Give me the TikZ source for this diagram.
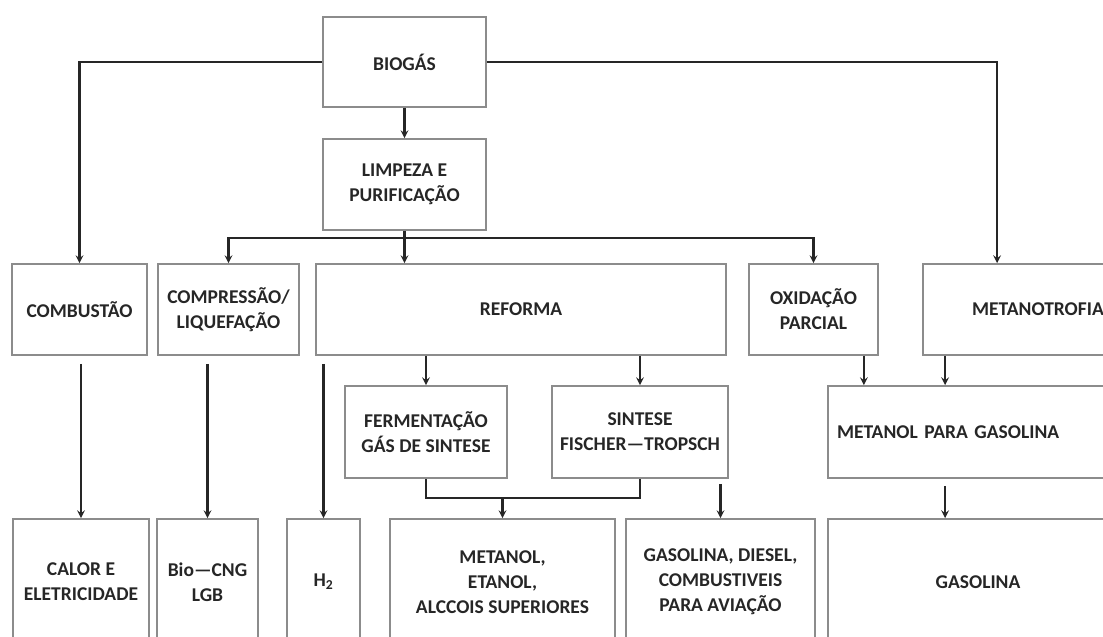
\documentclass[tikz,border=0pt]{standalone}
\usepackage{fontspec}
\setmainfont{Carlito}
\usetikzlibrary{calc,arrows,positioning}
\tikzstyle{box} = [rectangle, draw=black!45, line width=1.7pt, inner sep=0pt, align=center, text=black!85, font=\fontsize{19.5}{25}\selectfont\bfseries]
\tikzstyle{arrow} = [line width=2.4pt, draw=black!85, ->, >=stealth]
\tikzstyle{line} = [line width=2.4pt, draw=black!85]
\begin{document}
\begin{tikzpicture}[x=1pt,y=-1pt]
\useasboundingbox (0,0) rectangle (1103,637);
\node (bio) [box, minimum width=163pt, minimum height=90pt] at (404.5,62) {BIOGÁS};
\node (limp) [box, minimum width=163pt, minimum height=91pt] at (404.5,184.5) {LIMPEZA E\\PURIFICAÇÃO};
\node (comb) [box, minimum width=135pt, minimum height=91pt] at (79.5,309.5) {COMBUSTÃO};
\node (comp) [box, minimum width=141pt, minimum height=91pt] at (228.5,309.5) {COMPRESSÃO/\\LIQUEFAÇÃO};
\node (ref) [box, minimum width=410pt, minimum height=91pt] at (521,309.5) {REFORMA};
\node (oxi) [box, minimum width=129pt, minimum height=91pt] at (813.5,309.5) {OXIDAÇÃO\\PARCIAL};
\node (meta) [box, minimum width=230pt, minimum height=91pt] at (1038,309.5) {METANOTROFIA};
\node (ferm) [box, minimum width=162pt, minimum height=92pt] at (426,432) {FERMENTAÇÃO\\GÁS DE SINTESE};
\node (sint) [box, minimum width=176pt, minimum height=92pt] at (640,432) {SINTESE\\FISCHER—TROPSCH};
\node (mpg) [box, inner xsep=9pt, text width=259pt, align=left, minimum height=92pt] at (966.5,432) {METANOL PARA GASOLINA};
\node (calor) [box, minimum width=136pt, minimum height=126pt] at (81,582) {CALOR E\\ELETRICIDADE};
\node (biocng) [box, minimum width=101pt, minimum height=126pt] at (207.5,582) {Bio—CNG\\LGB};
\node (h2) [box, minimum width=73pt, minimum height=126pt] at (323.5,582) {H\textsubscript{2}};
\node (metanol) [box, minimum width=225pt, minimum height=126pt] at (502.5,582) {METANOL,\\ETANOL,\\ALCCOIS SUPERIORES};
\node (gasdiesel) [box, minimum width=189pt, minimum height=126pt] at (720.5,582) {GASOLINA, DIESEL,\\COMBUSTIVEIS\\PARA AVIAÇÃO};
\node (gasolina) [box, minimum width=300pt, minimum height=126pt] at (978,582) {GASOLINA};
\coordinate (fjoin) at ($(ferm.south)+(0,19)$);
\coordinate (oxo) at ($(oxi.south east)+(-15,0)$);
\coordinate (mto) at ($(meta.south west)+(23,0)$);
\draw [arrow] (bio.west) -| (comb.north);
\draw [arrow] (bio.east) -| ($(meta.north west)+(75,0)$);
\draw [arrow] (bio) -- (limp);
\draw [arrow] (limp.south) -- (limp.south |- ref.north);
\draw [arrow] ([yshift=-7pt]limp.south) -| (comp.north);
\draw [arrow] ([yshift=-7pt]limp.south) -| (oxi.north);
\draw [arrow, shorten <=8pt] (comb.south -| calor.north) -- (calor.north);
\draw [arrow, shorten <=8pt] (comp.south -| biocng.north) -- (biocng.north);
\draw [arrow, shorten <=8pt] (ref.south -| h2.north) -- (h2.north);
\draw [arrow] (ref.south -| ferm.north) -- (ferm.north);
\draw [arrow] (ref.south -| sint.north) -- (sint.north);
\draw [line] (ferm.south) -- (fjoin) -| (sint.south);
\draw [arrow] (fjoin -| metanol.north) -- (metanol.north);
\draw [arrow, shorten <=5pt] (sint.south -| gasdiesel.north) -- (gasdiesel.north);
\draw [arrow] (oxo) -- (oxo |- mpg.north);
\draw [arrow] (mto) -- (mto |- mpg.north);
\draw [arrow, shorten <=7pt] (mto |- mpg.south) -- (mto |- gasolina.north);
\end{tikzpicture}
\end{document}
